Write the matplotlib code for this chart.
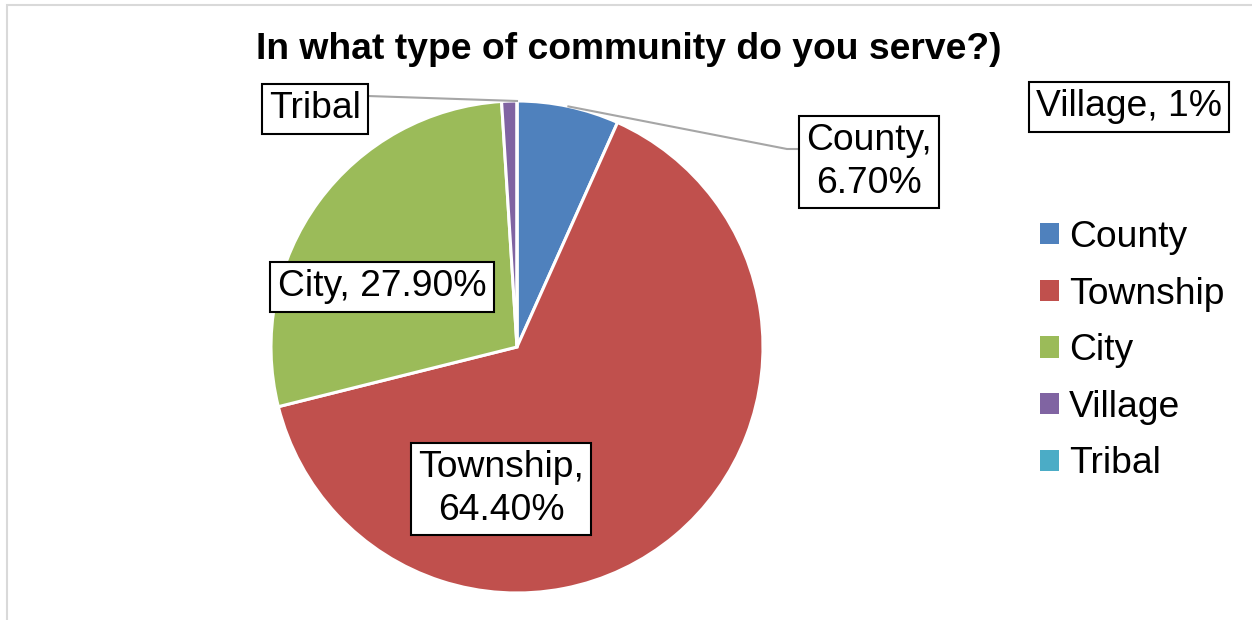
import matplotlib.pyplot as plt
import numpy as np
from matplotlib.lines import Line2D
from matplotlib.patches import Patch, Rectangle

plt.rcParams["font.family"] = ["Liberation Sans", "DejaVu Sans"]

categories = ["County", "Township", "City", "Village", "Tribal"]
shares = [6.7, 64.4, 27.9, 1.0, 0.0]
label_texts = ["County,\n6.70%", "Township,\n64.40%", "City, 27.90%", "Village, 1%", "Tribal"]
colors = ["#4F81BD", "#C0504D", "#9BBB59", "#8064A2", "#4BACC6"]
title = "In what type of community do you serve?)"

W, H = 1252, 620
FS = 26.8


def px(x, y):
    """Image pixel (origin top-left) -> figure fraction."""
    return x / W, 1 - y / H


fig = plt.figure(figsize=(W / 100, H / 100), dpi=100)

# pie axes: centre (517, 347), radius 246 px
cx, cy, r = 517, 347, 246
ax = fig.add_axes([(cx - r) / W, (H - cy - r) / H, 2 * r / W, 2 * r / H])
wedges, _ = ax.pie(
    shares,
    colors=colors,
    startangle=90,
    counterclock=False,
    radius=1,
    wedgeprops=dict(edgecolor="white", linewidth=2.2),
)
ax.set_xlim(-1, 1)
ax.set_ylim(-1, 1)
ax.axis("off")

box = dict(boxstyle="square,pad=0.2", fc="white", ec="black", lw=1.5)

# data label positions (image pixels)
label_pos = {
    "County": (869, 162),
    "Township": (501, 489),
    "City": (382, 287),
    "Village": (1129, 107),
    "Tribal": (315, 109),
}
for cat, txt in zip(categories, label_texts):
    x, y = px(*label_pos[cat])
    fig.text(x, y, txt, ha="center", va="center", fontsize=FS, linespacing=1.3,
             bbox=box, zorder=5)

# leader lines from wedge edge to label
to_fig = ax.transData + fig.transFigure.inverted()


def edge_point(w):
    ang = np.deg2rad((w.theta1 + w.theta2) / 2)
    return to_fig.transform((np.cos(ang), np.sin(ang)))


county_w = wedges[categories.index("County")]
p0 = edge_point(county_w)
p1, p2 = px(787, 149), px(797, 149)
fig.add_artist(Line2D([p0[0], p1[0], p2[0]], [p0[1], p1[1], p2[1]],
                      color="#a6a6a6", lw=1.5, zorder=4))

tribal_w = wedges[categories.index("Tribal")]
q0 = edge_point(tribal_w)
q1 = px(368, 96)
fig.add_artist(Line2D([q0[0], q1[0]], [q0[1], q1[1]], color="#a6a6a6", lw=1.5, zorder=4))

# title
tx, ty = px(629, 59)
fig.text(tx, ty, title, ha="center", va="baseline", fontsize=FS, fontweight="bold")

# legend
handles = [Patch(facecolor=c, edgecolor="none") for c in colors]
lx, ly = px(1040, 220)
fig.legend(handles, categories, loc="upper left", bbox_to_anchor=(lx, ly),
           frameon=False, fontsize=FS, handlelength=0.5, handleheight=0.5,
           handletextpad=0.28, labelspacing=0.58, borderpad=0, borderaxespad=0)

# chart area border (light grey)
bx, by = px(7, 5)
fig.add_artist(Rectangle((bx, -0.1), 1.2, by + 0.1, transform=fig.transFigure,
                         fill=False, ec="#d9d9d9", lw=1.5, clip_on=False))

fig.savefig("out.png", dpi=100)
